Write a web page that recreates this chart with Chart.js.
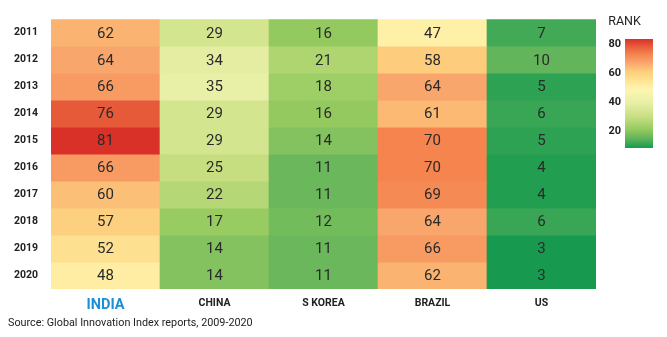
<!DOCTYPE html>
<html>
<head>
<meta charset="utf-8">
<script src="https://cdn.jsdelivr.net/npm/chart.js@4"></script>
<style>
  html, body { margin: 0; padding: 0; background: #fff; }
  #wrap { position: relative; width: 667px; height: 337px; }
  #heat { position: absolute; left: 0; top: 0; }
  #scaleBar { position: absolute; left: 590px; top: 0; }
</style>
</head>
<body>
<div id="wrap">
  <canvas id="heat" width="667" height="337"></canvas>
  <canvas id="scaleBar" width="77" height="160"></canvas>
</div>
<script>
  "use strict";

  // Donnees
  const years = ["2011", "2012", "2013", "2014", "2015", "2016", "2017", "2018", "2019", "2020"];
  const countries = ["INDIA", "CHINA", "S KOREA", "BRAZIL", "US"];
  const india = [62, 64, 66, 76, 81, 66, 60, 57, 52, 48];
  const china = [29, 34, 35, 29, 29, 25, 22, 17, 14, 14];
  const skorea = [16, 21, 18, 16, 14, 11, 11, 12, 11, 11];
  const brazil = [47, 58, 64, 61, 70, 70, 69, 64, 66, 62];
  const us = [7, 10, 5, 6, 5, 4, 4, 6, 3, 3];
  const rankTicks = [20, 40, 60, 80];

  const series = [india, china, skorea, brazil, us];
  const FONT = '"Roboto", "Liberation Sans", sans-serif';

  // Echelle de couleurs (vert -> jaune -> rouge), points de passage [rang, couleur]
  const colorStops = [
    [3, "#179a4f"], [10, "#63b55b"], [16, "#93c95f"], [25, "#c6de80"],
    [35, "#e8efa6"], [45, "#fef6b0"], [52, "#fee190"], [58, "#fdcc7c"],
    [64, "#f9a66c"], [70, "#f5844f"], [76, "#e65a3a"], [81, "#d93128"],
  ];

  function hexToRgb(h) {
    return [parseInt(h.slice(1, 3), 16), parseInt(h.slice(3, 5), 16), parseInt(h.slice(5, 7), 16)];
  }

  function colorFor(v) {
    const first = colorStops[0];
    const last = colorStops[colorStops.length - 1];
    if (v <= first[0]) return first[1];
    if (v >= last[0]) return last[1];
    for (let i = 0; i < colorStops.length - 1; i++) {
      const [v0, c0] = colorStops[i];
      const [v1, c1] = colorStops[i + 1];
      if (v >= v0 && v <= v1) {
        const f = (v - v0) / (v1 - v0);
        const a = hexToRgb(c0);
        const b = hexToRgb(c1);
        const c = a.map((x, k) => Math.round(x + (b[k] - x) * f));
        return `rgb(${c[0]}, ${c[1]}, ${c[2]})`;
      }
    }
    return last[1];
  }

  // Une serie par annee, empilee : chaque cellule vaut 1
  const datasets = years.map((year, yi) => ({
    label: year,
    data: countries.map(() => 1),
    backgroundColor: series.map((s) => colorFor(s[yi])),
    borderWidth: 0,
    barPercentage: 1,
    categoryPercentage: 1,
    values: series.map((s) => s[yi]),
  }));

  const cellLabels = {
    id: "cellLabels",
    afterDatasetsDraw(chart) {
      const ctx = chart.ctx;
      ctx.save();
      ctx.font = `15px ${FONT}`;
      ctx.fillStyle = "#2a2a2a";
      ctx.textAlign = "center";
      ctx.textBaseline = "middle";
      chart.data.datasets.forEach((ds, di) => {
        const meta = chart.getDatasetMeta(di);
        meta.data.forEach((bar, j) => {
          const yc = (bar.y + bar.base) / 2;
          ctx.fillText(String(ds.values[j]), bar.x, yc + 1);
        });
      });
      ctx.restore();
    },
  };

  new Chart(document.getElementById("heat"), {
    type: "bar",
    data: { labels: countries, datasets },
    options: {
      responsive: false,
      animation: false,
      layout: { padding: { top: 16, right: 71, left: 8, bottom: 0 } },
      plugins: {
        legend: { display: false },
        tooltip: { enabled: false },
        title: {
          display: true,
          position: "bottom",
          align: "start",
          text: "Source: Global Innovation Index reports, 2009-2020",
          color: "#222",
          font: { family: FONT, size: 10.8, weight: "normal" },
          padding: { top: 5, bottom: 7 },
        },
      },
      scales: {
        x: {
          stacked: true,
          grid: { display: false, drawTicks: false },
          border: { display: false },
          afterFit: (scale) => { scale.height = 23; },
          ticks: {
            padding: 8,
            color: (c) => (c.index === 0 ? "#1a8fd6" : "#222"),
            font: (c) => ({ family: FONT, size: c.index === 0 ? 14.5 : 10.5, weight: "bold" }),
          },
        },
        y: {
          stacked: true,
          reverse: true,
          min: 0,
          max: 10,
          grid: { display: false, drawTicks: false },
          border: { display: false },
          afterFit: (scale) => { scale.width = 43; },
          afterBuildTicks: (scale) => {
            scale.ticks = years.map((_, i) => ({ value: i + 0.5 }));
          },
          ticks: {
            padding: 13,
            color: "#222",
            font: { family: FONT, size: 10.5, weight: "bold" },
            callback: (v) => years[Math.round(v - 0.5)],
          },
        },
      },
    },
    plugins: [cellLabels],
  });

  // Barre de legende des couleurs
  const barMin = 8, barMax = 84;
  const rankLow = colorStops[0][0];
  const rankHigh = colorStops[colorStops.length - 1][0];

  new Chart(document.getElementById("scaleBar"), {
    type: "bar",
    data: {
      labels: ["RANK"],
      datasets: [{
        data: [[barMin, barMax]],
        borderWidth: 0,
        borderSkipped: false,
        barPercentage: 1,
        categoryPercentage: 1,
        backgroundColor: (c) => {
          const chart = c.chart;
          if (!chart.chartArea) return "#ccc";
          const ys = chart.scales.y;
          const g = chart.ctx.createLinearGradient(0, ys.getPixelForValue(barMax), 0, ys.getPixelForValue(barMin));
          const n = 40;
          for (let k = 0; k <= n; k++) {
            g.addColorStop(k / n, colorFor(rankHigh - (rankHigh - rankLow) * k / n));
          }
          return g;
        },
      }],
    },
    options: {
      responsive: false,
      animation: false,
      layout: { padding: { top: 0, right: 14, left: 6, bottom: 12 } },
      plugins: {
        legend: { display: false },
        tooltip: { enabled: false },
        title: {
          display: true,
          text: "RANK",
          color: "#222",
          font: { family: FONT, size: 12.5, weight: "normal" },
          padding: { top: 14, bottom: 10 },
        },
      },
      scales: {
        x: { display: false },
        y: {
          min: barMin,
          max: barMax,
          grid: { display: false, drawTicks: false },
          border: { display: false },
          afterFit: (scale) => { scale.width = 29; },
          afterBuildTicks: (scale) => {
            scale.ticks = rankTicks.map((v) => ({ value: v }));
          },
          ticks: {
            padding: 4,
            color: "#222",
            font: { family: FONT, size: 11, weight: "bold" },
          },
        },
      },
    },
  });
</script>
</body>
</html>
